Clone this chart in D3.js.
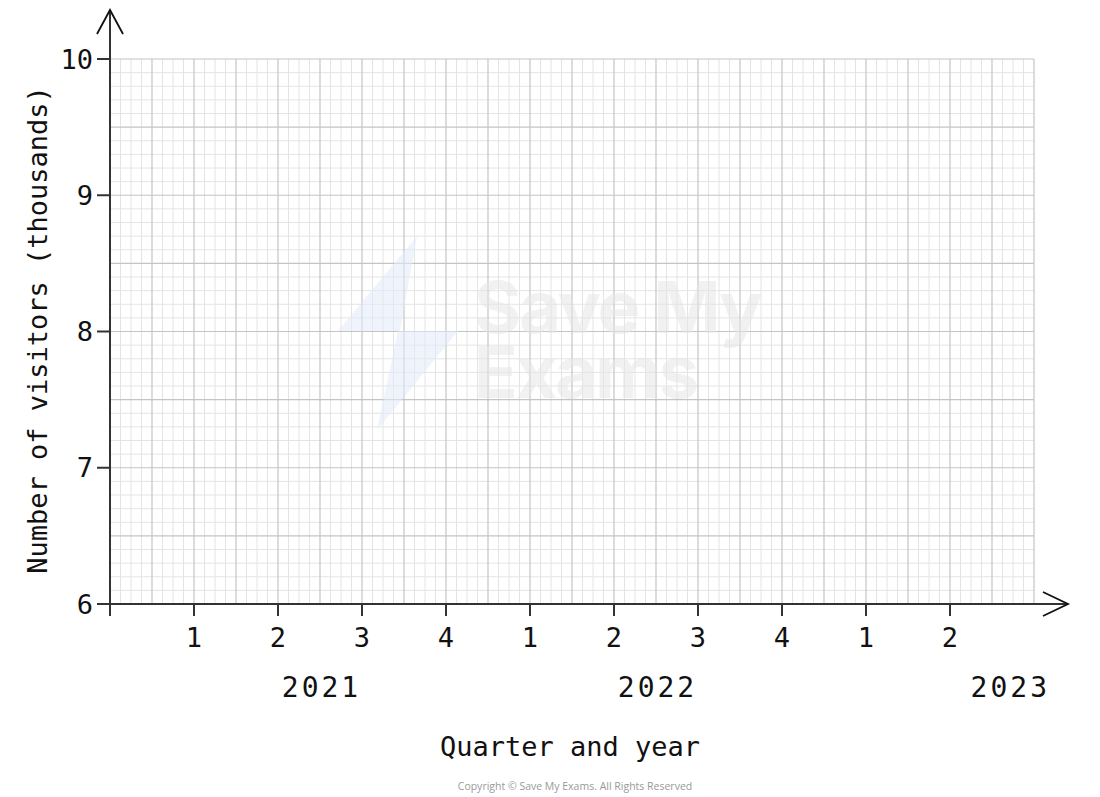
<!DOCTYPE html>
<html><head><meta charset="utf-8">
<script src="https://cdn.jsdelivr.net/npm/d3@7"></script>
<style>body{margin:0;background:#fff}svg{display:block}</style>
</head><body>
<script>
const quarterLabels = ["1","2","3","4","1","2","3","4","1","2"];
const quarterIndex = [1,2,3,4,5,6,7,8,9,10];
const years = ["2021","2022","2023"];
const yearIndex = [2.5, 6.5, 10.7];
const yTicks = [6,7,8,9,10];
const xLabel = "Quarter and year";
const yLabel = "Number of visitors (thousands)";
const watermark = ["Save My","Exams"];

const W=1100,H=797;
const svg=d3.select("body").append("svg").attr("width",W).attr("height",H);
const x=d3.scaleLinear().domain([0,11]).range([110,1034]);
const y=d3.scaleLinear().domain([6,10]).range([604,59]);
const font="'DejaVu Sans Mono', monospace";

const g=svg.append("g");
const xs=d3.range(0,88+1).map(i=>i/8);
const ys=d3.range(0,40+1).map(i=>6+i/10);
g.selectAll(".vm").data(xs.filter((d,i)=>i%4!==0)).enter().append("line")
 .attr("x1",d=>x(d)).attr("x2",d=>x(d)).attr("y1",y(6)).attr("y2",y(10))
 .attr("stroke","#e4e4e4").attr("stroke-width",1);
g.selectAll(".hm").data(ys.filter((d,i)=>i%5!==0)).enter().append("line")
 .attr("y1",d=>y(d)).attr("y2",d=>y(d)).attr("x1",x(0)).attr("x2",x(11))
 .attr("stroke","#e4e4e4").attr("stroke-width",1);
g.selectAll(".vM").data(xs.filter((d,i)=>i%4===0)).enter().append("line")
 .attr("x1",d=>x(d)).attr("x2",d=>x(d)).attr("y1",y(6)).attr("y2",y(10))
 .attr("stroke","#c4c4c4").attr("stroke-width",1.2);
g.selectAll(".hM").data(ys.filter((d,i)=>i%5===0)).enter().append("line")
 .attr("y1",d=>y(d)).attr("y2",d=>y(d)).attr("x1",x(0)).attr("x2",x(11))
 .attr("stroke","#c4c4c4").attr("stroke-width",1.2);

// watermark
const wm=svg.append("g").attr("opacity",0.55);
wm.append("path").attr("d","M417,236 L338,331 L398,331 L377,430 L458,331 L400,331 Z").attr("fill","#e3ebfb");
const wt=wm.append("text").attr("font-family","Inter, 'Open Sans', sans-serif").attr("font-weight",700)
 .attr("font-size",72).attr("fill","#e6e6e6").attr("letter-spacing",-2);
wt.append("tspan").attr("x",474).attr("y",333).text(watermark[0]);
wt.append("tspan").attr("x",474).attr("y",398).text(watermark[1]);

// axes
const ax="#333";
svg.append("line").attr("x1",x(0)).attr("x2",x(0)).attr("y1",y(6)+12).attr("y2",10).attr("stroke",ax).attr("stroke-width",2);
svg.append("path").attr("d",`M97,34 L${x(0)},10 L123,34`).attr("fill","none").attr("stroke","#111").attr("stroke-width",1.8);
svg.append("line").attr("x1",x(0)).attr("x2",1068).attr("y1",y(6)).attr("y2",y(6)).attr("stroke",ax).attr("stroke-width",2);
svg.append("path").attr("d",`M1043,592 L1068,${y(6)} L1043,616`).attr("fill","none").attr("stroke","#111").attr("stroke-width",1.8);

svg.selectAll(".yt").data(yTicks).enter().append("line")
 .attr("x1",97).attr("x2",x(0)).attr("y1",d=>y(d)).attr("y2",d=>y(d)).attr("stroke",ax).attr("stroke-width",2);
svg.selectAll(".ytl").data(yTicks).enter().append("text")
 .attr("x",93).attr("y",d=>y(d)).attr("dy","0.36em").attr("text-anchor","end")
 .attr("font-family",font).attr("font-size",27).attr("fill","#111").text(d=>d);

svg.selectAll(".xt").data(quarterIndex).enter().append("line")
 .attr("x1",d=>x(d)).attr("x2",d=>x(d)).attr("y1",y(6)).attr("y2",y(6)+12).attr("stroke",ax).attr("stroke-width",2);
svg.selectAll(".xtl").data(quarterIndex).enter().append("text")
 .attr("x",d=>x(d)).attr("y",647).attr("text-anchor","middle")
 .attr("font-family",font).attr("font-size",27).attr("fill","#111").text((d,i)=>quarterLabels[i]);
svg.selectAll(".yr").data(years).enter().append("text")
 .attr("x",(d,i)=>x(yearIndex[i])+1.5).attr("y",697).attr("text-anchor","middle")
 .attr("font-family",font).attr("font-size",28).attr("letter-spacing",3).attr("fill","#111").text(d=>d);

svg.append("text").attr("x",570).attr("y",756).attr("text-anchor","middle")
 .attr("font-family",font).attr("font-size",27).attr("fill","#111").text(xLabel);
svg.append("text").attr("transform","translate(47,330) rotate(-90)").attr("text-anchor","middle")
 .attr("font-family",font).attr("font-size",27).attr("fill","#111").text(yLabel);

svg.append("text").attr("x",575).attr("y",790).attr("text-anchor","middle")
 .attr("font-family","'Open Sans', sans-serif").attr("font-size",10.5).attr("fill","#999")
 .text("Copyright © Save My Exams. All Rights Reserved");
</script>
</body></html>
